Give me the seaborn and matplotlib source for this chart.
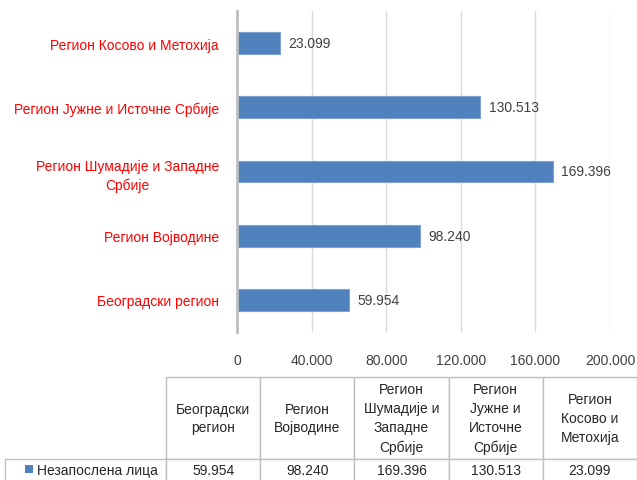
import matplotlib
matplotlib.use("Agg")
import matplotlib.pyplot as plt
from matplotlib.ticker import FuncFormatter, FixedLocator
from matplotlib.patches import Rectangle
import seaborn as sns
import pandas as pd

# data, in table order (Belgrade first)
regions = ["Београдски регион", "Регион Војводине", "Регион Шумадије и Западне\nСрбије",
           "Регион Јужне и Источне Србије", "Регион Косово и Метохија"]
table_headers = ["Београдски\nрегион", "Регион\nВојводине", "Регион\nШумадије и\nЗападне\nСрбије",
                 "Регион\nЈужне и\nИсточне\nСрбије", "Регион\nКосово и\nМетохија"]
unemployed = [59954, 98240, 169396, 130513, 23099]
series_name = "Незапослена лица"
x_ticks = [0, 40000, 80000, 120000, 160000, 200000]

bar_color = "#4F81BD"


def dot_thousands(v, pos=None):
    return "{:,}".format(int(round(v))).replace(",", ".")


sns.set_style("white")
plt.rcParams["font.family"] = ["Liberation Sans Narrow", "Liberation Sans", "DejaVu Sans"]

df = pd.DataFrame({"Регион": regions, "Број": unemployed})

fig = plt.figure(figsize=(6.37, 4.81), dpi=100)
ax = fig.add_axes([237 / 637, 1 - 333 / 481, 373 / 637, 321 / 481])

sns.barplot(data=df, x="Број", y="Регион", order=regions[::-1], orient="h",
            color=bar_color, saturation=1, width=0.34,
            edgecolor="#7EA3D3", linewidth=0.8, ax=ax)

ax.bar_label(ax.containers[0], fmt=dot_thousands, padding=6,
             color="#404040", fontsize=10)

ax.set_xlim(0, 200000)
ax.xaxis.set_major_locator(FixedLocator(x_ticks))
ax.xaxis.set_major_formatter(FuncFormatter(dot_thousands))
ax.tick_params(axis="x", length=0, pad=15, labelsize=10, labelcolor="#404040")
ax.grid(axis="x", color="#D9D9D9", linewidth=1)
ax.set_axisbelow(True)

ax.set_ylim(4.5, -0.5)
ax.set_yticks([i - 0.5 for i in range(6)], minor=True)
ax.tick_params(axis="y", which="major", length=0, pad=13, labelsize=10, labelcolor="#FF0000")
ax.tick_params(axis="y", which="minor", length=5, width=1.5, color="#BFBFBF")
for lbl in ax.get_yticklabels():
    lbl.set_multialignment("center")
    lbl.set_linespacing(1.4)

ax.set_xlabel("")
ax.set_ylabel("")
for side in ["top", "right", "bottom"]:
    ax.spines[side].set_visible(False)
ax.spines["left"].set_color("#BFBFBF")
ax.spines["left"].set_linewidth(2)

# data table under the chart
tax = fig.add_axes([5 / 637, 1 - 482 / 481, 632 / 637, 104 / 481])
tax.axis("off")
cell_text = [[""] + [dot_thousands(v) for v in unemployed]]
tbl = tax.table(cellText=cell_text, colLabels=[""] + table_headers,
                cellLoc="center", bbox=[0, 0, 1, 1])
tbl.auto_set_font_size(False)
first_w = 161 / 632
other_w = (1 - first_w) / len(unemployed)
for (r, c), cell in tbl.get_celld().items():
    cell.set_edgecolor("#BFBFBF")
    cell.set_linewidth(1)
    cell.set_width(first_w if c == 0 else other_w)
    cell.set_height(82 if r == 0 else 22)
    cell.get_text().set_fontsize(10)
    cell.get_text().set_color("#262626")
    cell.get_text().set_linespacing(1.45)
    if r == 0 and c == 0:
        cell.visible_edges = ""

tax.add_patch(Rectangle((20 / 632, 8 / 104), 8 / 632, 8 / 104,
                        facecolor=bar_color, edgecolor="none", transform=tax.transAxes))
tax.text(32 / 632, 11 / 104, series_name, transform=tax.transAxes,
         ha="left", va="center", fontsize=10, color="#262626")

fig.savefig("out.png", dpi=100)
